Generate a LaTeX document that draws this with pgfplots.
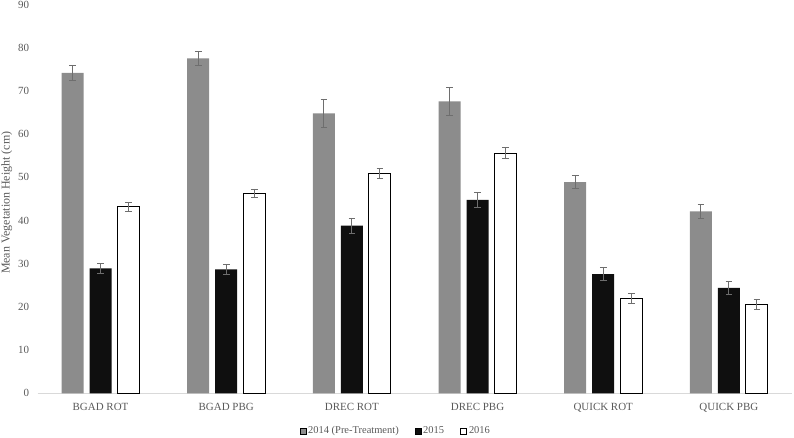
\documentclass[border=0pt]{standalone}
\usepackage{pgfplots}
\pgfplotsset{compat=1.18}
\usepackage{pgfplotstable}
\usepackage{fontspec}
\setmainfont{Liberation Serif}
\definecolor{txt}{HTML}{595959}
\definecolor{barg}{HTML}{8C8C8C}
\definecolor{barb}{HTML}{0F0F0F}
\definecolor{errc}{HTML}{6E6E6E}
\definecolor{axl}{HTML}{D9D9D9}

\pgfplotstableread{
x y e
0 74.2 1.75
1 77.5 1.7
2 64.8 3.3
3 67.6 3.2
4 48.9 1.45
5 42.1 1.6
}\dataA
\pgfplotstableread{
x y e
0 28.9 1.1
1 28.7 1.2
2 38.8 1.8
3 44.8 1.75
4 27.6 1.5
5 24.4 1.5
}\dataB
\pgfplotstableread{
x y e
0 43.2 1.05
1 46.3 1.0
2 50.9 1.25
3 55.6 1.25
4 21.9 1.15
5 20.5 1.15
}\dataC

\begin{document}
\begin{tikzpicture}
\begin{axis}[
  scale only axis,
  width=754bp, height=388.8bp,
  xmin=-0.5, xmax=5.5, ymin=0, ymax=90,
  ybar=6bp, bar width=22bp,
  axis lines*=left,
  x axis line style={draw=axl, line width=1bp},
  y axis line style={draw=none},
  major tick length=0pt,
  ytick={0,10,...,90},
  xtick={0,1,2,3,4,5},
  xticklabels={BGAD ROT, BGAD PBG, DREC ROT, DREC PBG, QUICK ROT, QUICK PBG},
  /pgf/number format/assume math mode=true,
  tick label style={font=\fontsize{11}{13}\selectfont, text=txt},
  yticklabel style={xshift=-5bp},
  xticklabel style={yshift=-6bp},
  ylabel={Mean Vegetation Height (cm)},
  ylabel style={font=\fontsize{12}{14}\selectfont, text=txt, at={(axis description cs:-0.041,0.49)}, anchor=center},
  legend columns=3,
  legend style={at={(0.475,-0.097)}, anchor=center, draw=none, fill=none,
    font=\fontsize{10.5}{12}\selectfont, text=txt, inner sep=1bp,
    /tikz/every even column/.append style={column sep=14bp}},
  legend image code/.code={\draw[#1] (0bp,-3bp) rectangle (6bp,3bp);},
  error bars/error bar style={errc, line width=0.8bp},
  error bars/error mark options={errc, line width=0.8bp, mark size=3.3bp, rotate=90},
]
\addplot[fill=barg, draw=none, error bars/.cd, y dir=both, y explicit]
  table[x=x, y=y, y error=e]{\dataA};
\addplot[fill=barb, draw=none, error bars/.cd, y dir=both, y explicit]
  table[x=x, y=y, y error=e]{\dataB};
\addplot[fill=white, draw=black, line width=1bp, error bars/.cd, y dir=both, y explicit]
  table[x=x, y=y, y error=e]{\dataC};
\legend{2014 (Pre-Treatment), 2015, 2016}
\coordinate (O) at (rel axis cs:0,0);
\coordinate (T) at (rel axis cs:1,1);
\end{axis}
\pgfresetboundingbox
\path[use as bounding box] ([xshift=-37.7bp,yshift=-44.7bp]O) rectangle ([xshift=2.3bp,yshift=4.5bp]T);
\end{tikzpicture}
\end{document}
